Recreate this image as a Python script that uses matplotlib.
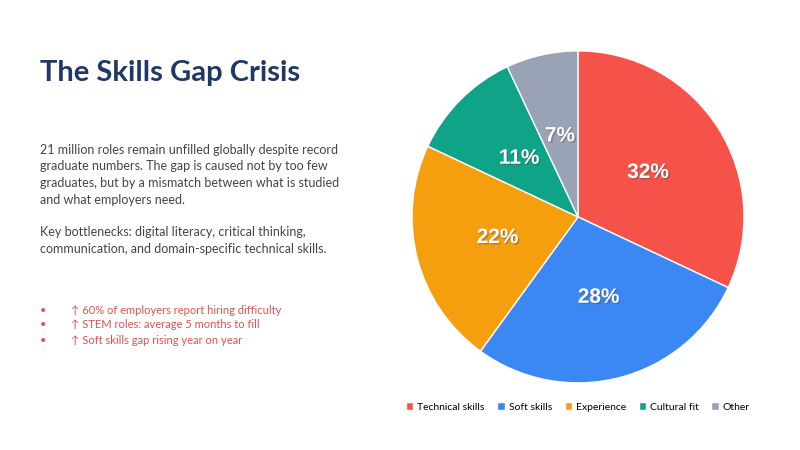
import matplotlib
matplotlib.use("Agg")
import matplotlib.pyplot as plt
import matplotlib.patheffects as pe

categories = ["Technical skills", "Soft skills", "Experience", "Cultural fit", "Other"]
values = [32, 28, 22, 11, 7]
colors = ["#f5534a", "#3b88f5", "#f59f0f", "#0fa387", "#9aa3b5"]

plt.rcParams['font.family'] = ['Lato', 'DejaVu Sans']
fig = plt.figure(figsize=(8, 4.5), dpi=100)
fig.patch.set_facecolor("white")

fig.text(40/800, 1-73/450, "The Skills Gap Crisis", fontsize=21, fontweight="bold",
         color="#1f3864", va="center", ha="left")

body = ("21 million roles remain unfilled globally despite record\n"
        "graduate numbers. The gap is caused not by too few\n"
        "graduates, but by a mismatch between what is studied\n"
        "and what employers need.\n\n"
        "Key bottlenecks: digital literacy, critical thinking,\n"
        "communication, and domain-specific technical skills.")
fig.text(40/800, 1-144/450, body, fontsize=9, color="#444444", va="top", ha="left",
         linespacing=1.45)

bullets = ["60% of employers report hiring difficulty",
           "STEM roles: average 5 months to fill",
           "Soft skills gap rising year on year"]
for i, b in enumerate(bullets):
    y = 1 - (310 + i*15)/450
    fig.text(40/800, y, "•", fontsize=8, color="#d9534f", va="center", ha="left")
    fig.text(71/800, y, "↑ " + b, fontsize=8, color="#d9534f", va="center", ha="left")

ax = fig.add_axes([0.515, 0.149, 0.415, 0.738])
wedges, texts, autotexts = ax.pie(values, colors=colors, startangle=90, counterclock=False,
    autopct="%d%%", pctdistance=0.5,
    wedgeprops=dict(edgecolor="white", linewidth=1),
    textprops=dict(color="white", fontsize=15, fontweight="bold", family=["Liberation Sans"]))
for t in autotexts:
    t.set_path_effects([pe.withSimplePatchShadow(offset=(1, -1), alpha=0.4)])
ax.set_xlim(-1.0, 1.0)
ax.set_ylim(-1.0, 1.0)
ax.set_aspect("equal")

fig.legend(wedges, categories, loc="center", bbox_to_anchor=(578/800, 1-407/450), ncol=5,
           frameon=False, fontsize=7.5, handlelength=0.7, handleheight=0.7,
           handletextpad=0.4, columnspacing=1.2)

fig.savefig("out.png", dpi=100)
